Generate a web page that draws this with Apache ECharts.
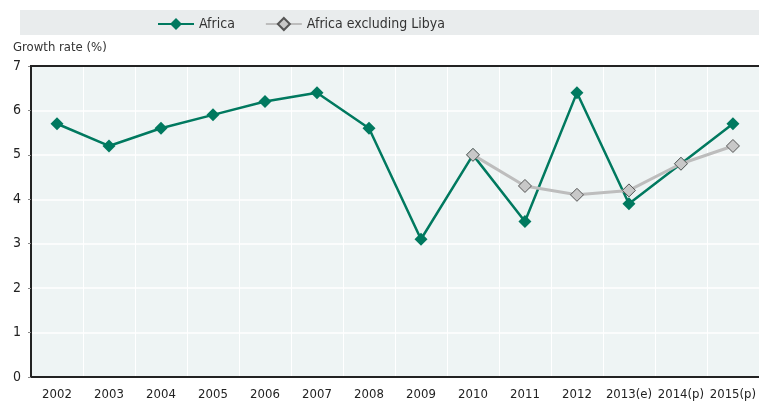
<!DOCTYPE html>
<html>
<head>
<meta charset="utf-8">
<script src="https://cdn.jsdelivr.net/npm/echarts@6/dist/echarts.min.js"></script>
<style>
  html, body { margin: 0; padding: 0; background: #fff; }
  #chart { width: 759px; height: 402px; }
</style>
</head>
<body>
<div id="chart"></div>
<script>
// -- data --
let years = ['2002', '2003', '2004', '2005', '2006', '2007', '2008', '2009', '2010',
             '2011', '2012', '2013(e)', '2014(p)', '2015(p)'];
let africa = [5.7, 5.2, 5.6, 5.9, 6.2, 6.4, 5.6, 3.1, 5.0, 3.5, 6.4, 3.9, 4.8, 5.7];
let africaExLibya = ['-', '-', '-', '-', '-', '-', '-', '-', 5.0, 4.3, 4.1, 4.2, 4.8, 5.2];

let font = "'DejaVu Sans Condensed', 'Liberation Sans Narrow', sans-serif";
let green = '#00795f';

let option = {
  animation: false,
  textStyle: {fontFamily: font},
  graphic: [
    {type: 'rect', shape: {x: 20, y: 10, width: 739, height: 25}, style: {fill: '#e9eced'}, z: -1},
    // top border line of the plot
    {type: 'line', shape: {x1: 30, y1: 66, x2: 759, y2: 66}, style: {stroke: '#222', lineWidth: 2}, z: 100}
  ],
  legend: {
    top: 12,
    left: 152,
    itemWidth: 36,
    itemHeight: 15,
    itemGap: 30,
    textStyle: {fontFamily: font, fontSize: 14, color: '#333'},
    data: ['Africa', 'Africa excluding Libya']
  },
  grid: {left: 31, top: 66, width: 731, bottom: 25, show: true, backgroundColor: '#eef4f4', borderWidth: 0},
  xAxis: {
    type: 'category',
    data: years,
    boundaryGap: true,
    axisLine: {lineStyle: {color: '#222', width: 2}},
    axisTick: {inside: true, length: 5, lineStyle: {color: '#888'}},
    axisLabel: {color: '#222', fontSize: 13, margin: 11, interval: 0, fontFamily: font},
    splitLine: {show: true, lineStyle: {color: '#fff', width: 1}}
  },
  yAxis: {
    type: 'value',
    min: 0,
    max: 7,
    interval: 1,
    name: 'Growth rate (%)',
    nameLocation: 'end',
    nameGap: 12,
    nameTextStyle: {align: 'left', padding: [0, 0, 0, -18], color: '#333', fontSize: 13, fontFamily: font},
    axisLine: {show: true, lineStyle: {color: '#222', width: 2}},
    axisTick: {show: true, length: 3, lineStyle: {color: '#888'}},
    axisLabel: {color: '#222', fontSize: 14, margin: 10, fontFamily: font},
    splitLine: {show: true, lineStyle: {color: '#fff', width: 1.5}}
  },
  series: [
    {
      name: 'Africa',
      type: 'line',
      data: africa,
      symbol: 'diamond',
      symbolSize: 13,
      itemStyle: {color: green},
      lineStyle: {color: green, width: 2.5},
      z: 3
    },
    {
      name: 'Africa excluding Libya',
      type: 'line',
      data: africaExLibya,
      symbol: 'diamond',
      symbolSize: 13,
      itemStyle: {color: '#c8c8c8', borderColor: '#555', borderWidth: 1},
      lineStyle: {color: '#bdbdbd', width: 3},
      z: 4
    }
  ]
};

let myChart = echarts.init(document.getElementById('chart'));
myChart.setOption(option);
</script>
</body>
</html>
